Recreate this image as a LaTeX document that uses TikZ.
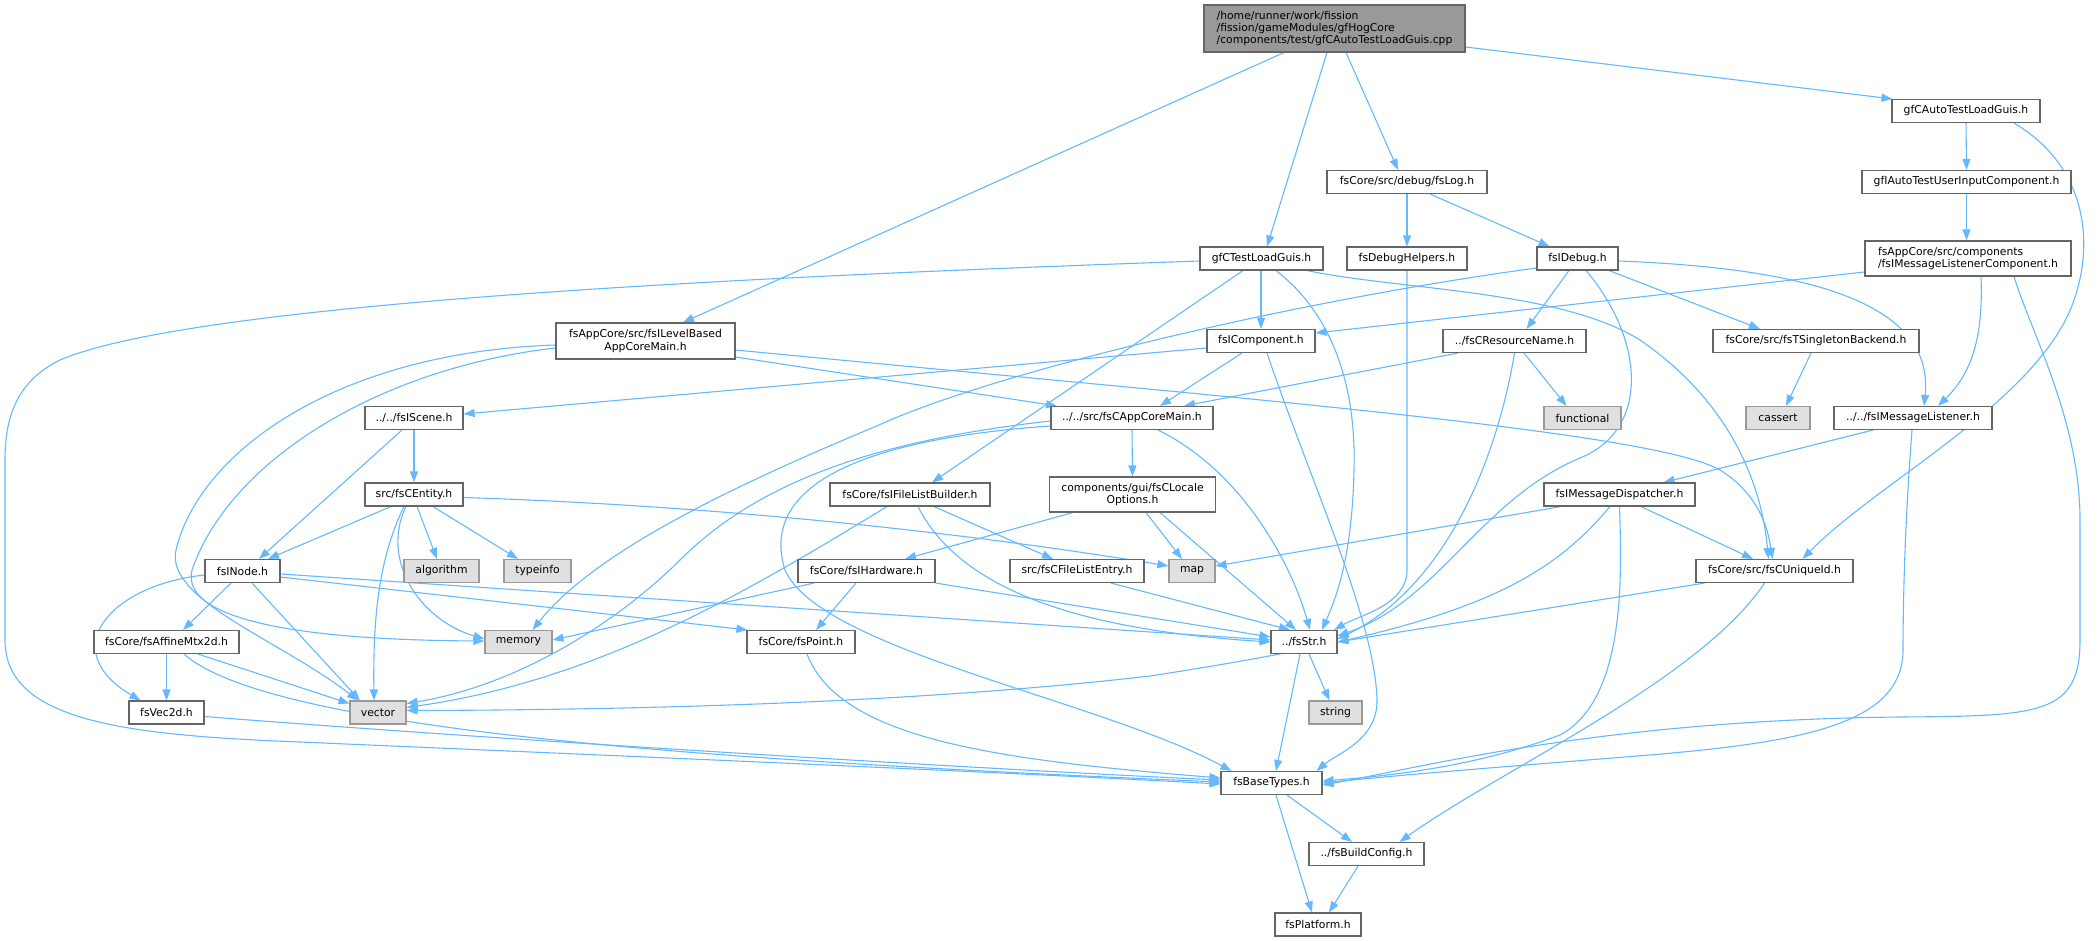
\documentclass[tikz,border=0pt]{standalone}
\usepackage{fontspec}
\newfontfamily\dv{DejaVu Sans}
\usetikzlibrary{arrows.meta}
\definecolor{edgecol}{HTML}{63B8FF}
\definecolor{boxborder}{HTML}{666666}
\definecolor{rootfill}{HTML}{999999}
\definecolor{extfill}{HTML}{E0E0E0}
\definecolor{extborder}{HTML}{999999}
\pgfdeclarelayer{bg}
\pgfsetlayers{bg,main}
\begin{document}
\begin{tikzpicture}[x=1pt,y=-1pt,
  box/.style={draw=boxborder, line width=1.1pt, fill=white, inner sep=0pt,
    minimum height=23pt, font=\dv\fontsize{10.8}{12.2}\selectfont},
  ext/.style={box, fill=extfill, draw=extborder},
  edge/.style={draw=edgecol, line width=1.1pt, -{Triangle[length=11pt,width=8pt]}}]
\useasboundingbox (0,0) rectangle (2100,941);

% nodes
\node[box, minimum width=261pt, minimum height=47pt, fill=rootfill, align=left] (root) at (1334.5,28.5)
  {/home/runner/work/fission\\/fission/gameModules/gfHogCore\\/components/test/gfCAutoTestLoadGuis.cpp};
\node[box, minimum width=148pt] (gfCAuto) at (1966,111) {gfCAutoTestLoadGuis.h};
\node[box, minimum width=160pt] (fsLog) at (1407,182) {fsCore/src/debug/fsLog.h};
\node[box, minimum width=209pt] (gfIAuto) at (1966.5,182) {gfIAutoTestUserInputComponent.h};
\node[box, minimum width=123pt] (gfCTest) at (1261.5,258.5) {gfCTestLoadGuis.h};
\node[box, minimum width=120pt] (fsDbgH) at (1407,258.5) {fsDebugHelpers.h};
\node[box, minimum width=81pt] (fsIDebug) at (1577.5,258.5) {fsIDebug.h};
\node[box, minimum width=206pt, minimum height=35pt, align=left] (fsIMLC) at (1968,258.5)
  {fsAppCore/src/components\\/fsIMessageListenerComponent.h};
\node[box, minimum width=179pt, minimum height=36pt, align=center] (fsILB) at (645.5,341)
  {fsAppCore/src/fsILevelBased\\AppCoreMain.h};
\node[box, minimum width=108pt] (fsIComp) at (1261,341) {fsIComponent.h};
\node[box, minimum width=143pt] (fsCRN) at (1514.5,341) {../fsCResourceName.h};
\node[box, minimum width=206pt] (fsTSB) at (1816,341) {fsCore/src/fsTSingletonBackend.h};
\node[box, minimum width=98pt] (fsIScene) at (414,418) {../../fsIScene.h};
\node[box, minimum width=162pt] (fsCAM) at (1132,418) {../../src/fsCAppCoreMain.h};
\node[ext, minimum width=77pt] (nfunctional) at (1582.5,418) {functional};
\node[ext, minimum width=64pt] (ncassert) at (1778,418) {cassert};
\node[box, minimum width=158pt] (fsIML) at (1913,418) {../../fsIMessageListener.h};
\node[box, minimum width=98pt] (fsCEntity) at (414,494.5) {src/fsCEntity.h};
\node[box, minimum width=160pt] (fsIFLB) at (910,494.5) {fsCore/fsIFileListBuilder.h};
\node[box, minimum width=166pt, minimum height=35pt, align=center] (fsCLO) at (1132.5,494.5)
  {components/gui/fsCLocale\\Options.h};
\node[box, minimum width=151pt] (fsIMD) at (1619.5,494.5) {fsIMessageDispatcher.h};
\node[box, minimum width=75pt] (fsINode) at (242.5,571) {fsINode.h};
\node[ext, minimum width=75pt] (nalgorithm) at (441.5,571) {algorithm};
\node[ext, minimum width=67pt] (ntypeinfo) at (537.5,571) {typeinfo};
\node[box, minimum width=137pt] (fsIHW) at (866.5,571) {fsCore/fsIHardware.h};
\node[box, minimum width=134pt] (fsCFLE) at (1077,571) {src/fsCFileListEntry.h};
\node[ext, minimum width=46pt] (nmap) at (1192,571) {map};
\node[box, minimum width=157pt] (fsCUID) at (1774.5,571) {fsCore/src/fsCUniqueId.h};
\node[box, minimum width=145pt] (fsAM) at (166.5,642) {fsCore/fsAffineMtx2d.h};
\node[ext, minimum width=67pt] (nmemory) at (518.5,642) {memory};
\node[box, minimum width=108pt] (fsPoint) at (801,642) {fsCore/fsPoint.h};
\node[box, minimum width=66pt] (fsStr) at (1304,642) {../fsStr.h};
\node[box, minimum width=75pt] (fsVec) at (166.5,712.5) {fsVec2d.h};
\node[ext, minimum width=56pt] (nvector) at (378,712.5) {vector};
\node[ext, minimum width=53pt] (nstring) at (1335.5,712.5) {string};
\node[box, minimum width=101pt] (fsBT) at (1271.5,783) {fsBaseTypes.h};
\node[box, minimum width=115pt] (fsBC) at (1366.5,854) {../fsBuildConfig.h};
\node[box, minimum width=86pt] (fsPlat) at (1318,924.5) {fsPlatform.h};

\begin{pgfonlayer}{bg}
% root
\draw[edge] ([xshift=-50.5pt]root.south) -- ([xshift=37.5pt]fsILB.north);
\draw[edge] ([xshift=-7.5pt]root.south) -- ([xshift=5.5pt]gfCTest.north);
\draw[edge] ([xshift=11.5pt]root.south) -- ([xshift=-9pt]fsLog.north);
\draw[edge] ([yshift=-18.5pt]root.east) -- ([xshift=1pt]gfCAuto.north west);
% gfCAuto
\draw[edge] (gfCAuto.south) -- (gfIAuto.north);
\draw[edge] ([xshift=48pt]gfCAuto.south) .. controls (2085,165) and (2095,240) .. (2074,300)
  .. controls (2040,400) and (1880,480) .. ([xshift=28pt]fsCUID.north);
\draw[edge] (gfIAuto.south) -- ([xshift=-1.5pt]fsIMLC.north);
% fsIMLC
\draw[edge] ([yshift=-13.5pt]fsIMLC.west) -- ([yshift=8pt]fsIComp.east);
\draw[edge] ([xshift=13pt]fsIMLC.south) .. controls (1983,330) and (1975,370) .. ([xshift=25pt]fsIML.north);
\draw[edge] ([xshift=46pt]fsIMLC.south) .. controls (2030,330) and (2080,420) .. (2080,520) -- (2080,640)
  .. controls (2080,715) and (2040,716) .. (1900,717) .. controls (1600,720) and (1420,768) .. ([yshift=-2pt]fsBT.east);
% fsLog
\draw[edge] (fsLog.south) -- (fsDbgH.north);
\draw[edge] ([xshift=23pt]fsLog.south) -- ([xshift=-28pt]fsIDebug.north);
\draw[edge] (fsDbgH.south) -- (1407,570) .. controls (1407,605) and (1360,615) .. ([xshift=30pt]fsStr.north);
% fsIDebug
\draw[edge] ([yshift=-9.5pt]fsIDebug.west) .. controls (1300,300) and (1000,370) .. (879,425)
  .. controls (760,475) and (600,545) .. ([xshift=14pt]nmemory.north);
\draw[edge] ([xshift=-8.5pt]fsIDebug.south) -- ([xshift=12pt]fsCRN.north);
\draw[edge] ([xshift=8.5pt]fsIDebug.south) .. controls (1645,340) and (1650,430) .. (1580,458)
  .. controls (1480,500) and (1440,600) .. ([yshift=6pt]fsStr.east);
\draw[edge] ([xshift=31.5pt]fsIDebug.south) -- ([xshift=-56pt]fsTSB.north);
\draw[edge] ([yshift=-2.5pt]fsIDebug.east) .. controls (1800,268) and (1935,300) .. ([xshift=11pt]fsIML.north);
% gfCTest
\draw[edge] ([yshift=-2.5pt]gfCTest.west) .. controls (800,275) and (200,300) .. (60,360)
  .. controls (15,382) and (5,420) .. (5,460) -- (5,640)
  .. controls (5,720) and (120,735) .. (300,742) .. controls (600,755) and (1000,772) .. ([yshift=-1pt]fsBT.west);
\draw[edge] ([xshift=-0.5pt]gfCTest.south) -- (fsIComp.north);
\draw[edge] ([xshift=-18.5pt]gfCTest.south) -- ([xshift=22pt]fsIFLB.north);
\draw[edge] ([xshift=14.5pt]gfCTest.south) .. controls (1340,320) and (1356,400) .. (1354,470)
  .. controls (1352,560) and (1335,600) .. ([xshift=18pt]fsStr.north);
\draw[edge] ([xshift=45.5pt]gfCTest.south) .. controls (1400,290) and (1560,290) .. (1640,340)
  .. controls (1720,395) and (1760,470) .. ([xshift=-6pt]fsCUID.north);
% fsILB
\draw[edge] ([yshift=-7pt]fsILB.west) .. controls (380,368) and (230,460) .. (192,570)
  .. controls (180,620) and (300,640) .. ([yshift=1pt]nmemory.west);
\draw[edge] ([yshift=-4pt]fsILB.west) .. controls (340,352) and (200,450) .. (176,550)
  .. controls (165,600) and (280,640) .. ([xshift=-20pt]nvector.north);
\draw[edge] ([yshift=-16pt]fsILB.east) -- ([xshift=-75pt]fsCAM.north);
\draw[edge] ([yshift=-9pt]fsILB.east) .. controls (1200,395) and (1650,430) .. (1720,470)
  .. controls (1760,495) and (1768,530) .. ([xshift=-2pt]fsCUID.north);
% fsIComp
\draw[edge] ([yshift=-7pt]fsIComp.west) -- ([yshift=4pt]fsIScene.east);
\draw[edge] ([xshift=-19pt]fsIComp.south) -- ([xshift=28pt]fsCAM.north);
\draw[edge] ([xshift=6pt]fsIComp.south) .. controls (1310,480) and (1375,620) .. (1377,700)
  .. controls (1378,740) and (1335,755) .. ([xshift=45pt]fsBT.north);
% fsCRN
\draw[edge] ([xshift=-56.5pt]fsCRN.south) -- ([xshift=52pt]fsCAM.north);
\draw[edge] (fsCRN.south) .. controls (1495,470) and (1440,590) .. ([yshift=3pt]fsStr.east);
\draw[edge] ([xshift=9.5pt]fsCRN.south) -- ([xshift=-16pt]nfunctional.north);
\draw[edge] ([xshift=-5pt]fsTSB.south) -- ([xshift=8pt]ncassert.north);
% fsIML
\draw[edge] ([xshift=-40pt]fsIML.south) -- ([xshift=44pt]fsIMD.north);
\draw[edge] ([xshift=-1pt]fsIML.south) .. controls (1905,520) and (1903,600) .. (1903,650)
  .. controls (1903,725) and (1800,742) .. (1650,755) .. controls (1500,767) and (1400,775) .. (fsBT.east);
% fsIScene / fsCEntity
\draw[edge] ([xshift=-12pt]fsIScene.south) -- ([xshift=16.5pt]fsINode.north);
\draw[edge] (fsIScene.south) -- (fsCEntity.north);
\draw[edge] ([xshift=-23pt]fsCEntity.south) -- ([xshift=25.5pt]fsINode.north);
\draw[edge] ([xshift=3pt]fsCEntity.south) -- ([xshift=-4.5pt]nalgorithm.north);
\draw[edge] ([xshift=19pt]fsCEntity.south) -- ([xshift=-19.5pt]ntypeinfo.north);
\draw[edge] ([yshift=-3pt]fsCEntity.east) .. controls (700,505) and (950,530) .. ([yshift=5pt]nmap.west);
\draw[edge] ([xshift=-8pt]fsCEntity.south) .. controls (380,560) and (420,620) .. ([yshift=3pt]nmemory.west);
\draw[edge] ([xshift=-10pt]fsCEntity.south) .. controls (378,560) and (373,620) .. ([xshift=-4pt]nvector.north);
% fsIFLB
\draw[edge] ([xshift=24pt]fsIFLB.south) -- ([xshift=-24pt]fsCFLE.north);
\draw[edge] ([xshift=8pt]fsIFLB.south) .. controls (960,590) and (1080,630) .. (fsStr.west);
\draw[edge] ([xshift=-23pt]fsIFLB.south) .. controls (750,590) and (600,680) .. ([yshift=5pt]nvector.east);
% fsCLO
\draw[edge] ([xshift=-59.5pt]fsCLO.south) -- ([xshift=38.5pt]fsIHW.north);
\draw[edge] ([xshift=13.5pt]fsCLO.south) -- ([xshift=-10pt]nmap.north);
\draw[edge] ([xshift=27.5pt]fsCLO.south) -- ([xshift=-8pt]fsStr.north);
% fsCAM
\draw[edge] (fsCAM.south) -- (fsCLO.north);
\draw[edge] ([xshift=26pt]fsCAM.south) .. controls (1240,470) and (1290,560) .. ([xshift=6pt]fsStr.north);
\draw[edge] ([yshift=-3pt]fsCAM.west) .. controls (880,440) and (760,480) .. (680,560)
  .. controls (620,620) and (520,685) .. ([yshift=9pt]nvector.east);
\draw[edge] ([yshift=-8pt]fsCAM.west) .. controls (850,440) and (760,490) .. (785,570)
  .. controls (820,650) and (1100,700) .. ([xshift=-40pt]fsBT.north);
% fsIMD
\draw[edge] ([xshift=-58.5pt]fsIMD.south) -- ([yshift=5pt]nmap.east);
\draw[edge] ([xshift=-9.5pt]fsIMD.south) .. controls (1540,590) and (1450,630) .. (1150,676)
  .. controls (900,705) and (600,710) .. ([yshift=2pt]nvector.east);
\draw[edge] ([xshift=21.5pt]fsIMD.south) -- ([xshift=-21.5pt]fsCUID.north);
\draw[edge] (fsIMD.south) .. controls (1622,580) and (1625,700) .. (1560,735)
  .. controls (1480,765) and (1400,775) .. ([yshift=2pt]fsBT.east);
% fsINode
\draw[edge] ([xshift=-11.5pt]fsINode.south) -- ([xshift=16.5pt]fsAM.north);
\draw[edge] ([yshift=-4pt]fsINode.west) .. controls (110,585) and (55,650) .. ([xshift=-26pt]fsVec.north);
\draw[edge] ([xshift=9.5pt]fsINode.south) -- ([xshift=-18pt]nvector.north);
\draw[edge] ([yshift=-6pt]fsINode.east) -- ([xshift=1pt]fsPoint.north west);
\draw[edge] ([yshift=-3pt]fsINode.east) -- ([yshift=2pt]fsStr.west);
% fsAM, fsVec, fsPoint
\draw[edge] (fsAM.south) -- (fsVec.north);
\draw[edge] ([xshift=31.5pt]fsAM.south) -- ([yshift=9pt]nvector.west);
\draw[edge] ([xshift=17.5pt]fsAM.south) .. controls (270,730) and (700,760) .. ([yshift=1pt]fsBT.west);
\draw[edge] ([yshift=-4pt]fsVec.east) .. controls (500,740) and (1000,770) .. ([yshift=3pt]fsBT.west);
\draw[edge] ([xshift=6pt]fsPoint.south) .. controls (840,740) and (1000,760) .. ([yshift=5pt]fsBT.west);
% fsIHW, fsCFLE
\draw[edge] ([xshift=-52.5pt]fsIHW.south) -- ([yshift=2pt]nmemory.east);
\draw[edge] ([xshift=-10.5pt]fsIHW.south) -- ([xshift=15pt]fsPoint.north);
\draw[edge] (fsIHW.south east) -- ([yshift=5pt]fsStr.west);
\draw[edge] ([xshift=34pt]fsCFLE.south) -- ([xshift=-14pt]fsStr.north);
% fsCUID
\draw[edge] ([xshift=-70pt]fsCUID.south) -- (fsStr.east);
\draw[edge] ([xshift=-10pt]fsCUID.south) .. controls (1700,680) and (1500,770) .. ([xshift=33pt]fsBC.north);
% bottom
\draw[edge] ([xshift=5pt]fsStr.south) -- ([xshift=-6pt]nstring.north);
\draw[edge] ([xshift=-4pt]fsStr.south) -- ([xshift=4.5pt]fsBT.north);
\draw[edge] ([xshift=15.5pt]fsBT.south) -- ([xshift=-14.5pt]fsBC.north);
\draw[edge] ([xshift=4.5pt]fsBT.south) -- ([xshift=-6pt]fsPlat.north);
\draw[edge] ([xshift=-8.5pt]fsBC.south) -- ([xshift=11pt]fsPlat.north);
\end{pgfonlayer}
\end{tikzpicture}
\end{document}
